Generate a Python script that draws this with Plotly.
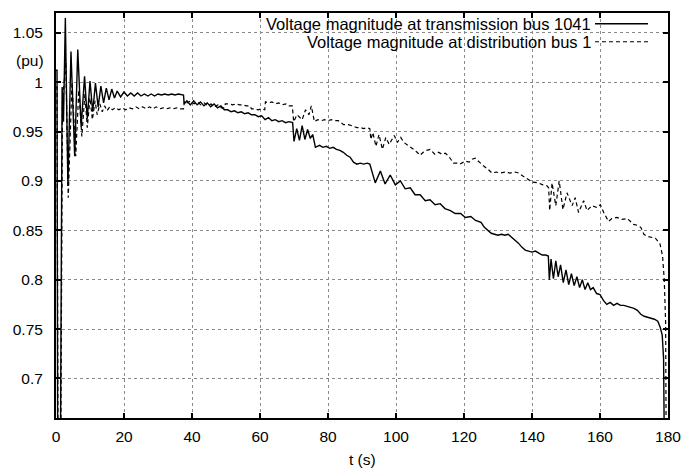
import plotly.graph_objects as go

# ---------------- data ----------------
t_trans = [0.0, 0.3, 0.5, 1.3, 1.8, 2.2, 2.75, 3.5, 4.4, 5.5, 6.4, 7.4, 8.4, 9.2, 10.0, 10.8,
           11.6, 12.4, 13.2, 14.0, 14.8, 15.6, 16.4, 17.2, 18.0, 19.0, 20.0, 21.0, 22.0, 23.0,
           24.0, 25.0, 26.0, 27.0, 28.0, 29.0, 30.0, 31.0, 32.0, 33.0, 34.0, 35.0, 36.0, 37.5,
           37.7, 38.5, 39.5, 40.5, 41.5, 42.5, 43.5, 44.5, 45.5, 46.5, 47.5, 48.5, 49.5, 50.5,
           51.5, 52.5, 53.5, 54.5, 55.5, 56.5, 57.5, 58.5, 59.5, 60.5, 61.5, 62.5, 63.5, 64.5,
           65.5, 66.5, 67.5, 68.5, 69.6, 70.0, 70.8, 71.6, 72.4, 73.2, 74.0, 74.8, 75.5, 76.3,
           77.5, 78.5, 79.5, 80.5, 81.5, 82.5, 83.5, 84.5, 85.5, 86.5, 87.5, 88.5, 89.5, 90.5,
           91.5, 92.3, 93.9, 95.4, 96.8, 98.3, 99.8, 101.3, 102.7, 104.2, 105.6, 107.1, 108.6,
           110.0, 111.5, 113.0, 114.4, 116.0, 117.4, 119.0, 120.4, 122.0, 123.4, 125.0, 126.0,
           127.0, 128.0, 129.0, 130.0, 131.0, 132.0, 133.0, 134.0, 135.0, 136.0, 137.0, 138.0,
           139.0, 140.0, 141.0, 142.0, 143.0, 144.0, 144.8, 145.1, 145.6, 146.3, 147.0, 147.7,
           148.4, 149.2, 150.0, 150.8, 151.6, 152.4, 153.2, 154.0, 154.8, 155.6, 156.4, 157.2,
           158.0, 159.0, 160.0, 161.0, 162.0, 163.0, 164.0, 165.0, 166.0, 167.0, 168.0, 169.0,
           170.0, 171.0, 172.0, 173.0, 174.0, 175.0, 176.0, 177.0, 177.7, 178.3, 178.7, 179.0]
v_trans = [1.012, 1.012, 0.620, 0.620, 0.995, 0.960, 1.065, 0.895, 1.031, 0.925, 1.033, 0.955,
           1.006, 0.963, 1.001, 0.970, 0.999, 0.975, 0.996, 0.979, 0.994, 0.982, 0.993, 0.984,
           0.991, 0.985, 0.990, 0.986, 0.989, 0.986, 0.989, 0.986, 0.988, 0.986, 0.988, 0.986,
           0.988, 0.987, 0.988, 0.987, 0.988, 0.987, 0.988, 0.987,
           0.978, 0.981, 0.977, 0.981, 0.977, 0.980, 0.976, 0.979, 0.975, 0.978, 0.974, 0.976,
           0.972, 0.972, 0.970, 0.971, 0.969, 0.970, 0.968, 0.969, 0.967, 0.967, 0.965, 0.966,
           0.962, 0.964, 0.961, 0.962, 0.960, 0.961, 0.959, 0.960, 0.959, 0.940, 0.953, 0.941,
           0.956, 0.942, 0.952, 0.943, 0.947, 0.934, 0.936, 0.934, 0.935, 0.933, 0.934, 0.932,
           0.931, 0.929, 0.926, 0.924, 0.919, 0.917, 0.918, 0.917, 0.918, 0.917, 0.898, 0.910,
           0.897, 0.906, 0.896, 0.900, 0.892, 0.893, 0.886, 0.886, 0.880, 0.881, 0.876, 0.877,
           0.872, 0.870, 0.867, 0.867, 0.863, 0.864, 0.860, 0.858, 0.853, 0.850, 0.847, 0.846,
           0.845, 0.846, 0.845, 0.846, 0.843, 0.840, 0.837, 0.833, 0.830, 0.829, 0.828, 0.829,
           0.827, 0.825, 0.825, 0.824, 0.800, 0.821, 0.801, 0.819, 0.803, 0.815, 0.797, 0.810,
           0.795, 0.806, 0.794, 0.803, 0.792, 0.800, 0.790, 0.797, 0.790, 0.792, 0.786, 0.785,
           0.779, 0.775, 0.777, 0.774, 0.776, 0.774, 0.774, 0.773, 0.772, 0.771, 0.769, 0.765,
           0.763, 0.762, 0.761, 0.760, 0.758, 0.752, 0.744, 0.720, 0.600]

t_dist = [0.0, 0.3, 0.6, 1.4, 1.9, 2.9, 3.6, 4.7, 5.8, 6.7, 7.6, 8.5, 9.2, 10.0, 10.7, 11.5,
          12.1, 12.9, 13.6, 14.3, 15.0, 15.8, 16.6, 17.5, 18.5, 19.5, 20.5, 21.5, 22.5, 23.5,
          24.5, 25.5, 26.5, 27.5, 28.5, 29.5, 30.5, 31.5, 32.5, 33.5, 34.5, 35.5, 36.5, 37.5,
          37.8, 38.6, 39.6, 40.6, 41.6, 42.6, 43.6, 44.6, 45.6, 46.6, 47.6, 48.6, 49.6, 49.8,
          51.0, 52.0, 53.0, 54.0, 55.0, 56.0, 57.0, 57.5, 58.5, 59.5, 60.5, 61.4, 61.6, 62.5,
          63.5, 64.5, 65.5, 66.5, 67.5, 68.5, 69.5, 69.9, 70.9, 72.4, 73.4, 74.4, 75.1, 76.0,
          77.0, 78.0, 79.0, 80.0, 81.0, 82.0, 83.0, 84.6, 86.0, 87.5, 88.5, 89.5, 90.5, 91.5,
          92.3, 92.6, 93.2, 94.1, 95.0, 96.0, 97.0, 98.0, 99.5, 100.4, 101.4, 102.3, 103.2,
          104.2, 105.2, 106.2, 107.1, 108.0, 109.0, 110.0, 111.4, 112.5, 113.5, 114.5, 115.5,
          116.9, 118.0, 118.8, 120.4, 121.5, 122.4, 123.3, 124.5, 125.8, 127.0, 128.2, 129.5,
          130.7, 132.0, 133.6, 135.0, 136.1, 137.3, 138.5, 140.0, 141.9, 143.2, 144.4, 144.9,
          145.2, 145.9, 147.0, 148.0, 149.1, 150.3, 151.8, 152.7, 153.7, 155.2, 156.2, 157.6,
          159.1, 160.1, 161.1, 162.5, 163.5, 165.0, 166.5, 168.0, 169.9, 171.0, 172.0, 172.9,
          173.8, 175.0, 176.3, 177.2, 177.6, 178.4, 178.9, 179.3, 179.5]
v_dist = [0.995, 0.995, 0.620, 0.620, 0.980, 1.020, 0.883, 1.000, 0.925, 0.992, 0.945, 0.988,
          0.954, 0.984, 0.962, 0.981, 0.967, 0.978, 0.970, 0.976, 0.971, 0.975, 0.972, 0.974,
          0.972, 0.974, 0.972, 0.974, 0.973, 0.975, 0.973, 0.975, 0.973, 0.975, 0.973, 0.975,
          0.973, 0.974, 0.973, 0.974, 0.973, 0.974, 0.973, 0.973,
          0.981, 0.979, 0.981, 0.978, 0.980, 0.977, 0.979, 0.976, 0.978, 0.975, 0.977, 0.974,
          0.974, 0.978, 0.978, 0.977, 0.978, 0.977, 0.977, 0.976, 0.976, 0.973, 0.973, 0.972,
          0.973, 0.972, 0.980, 0.979, 0.980, 0.978, 0.979, 0.977, 0.978, 0.976, 0.976, 0.960,
          0.967, 0.962, 0.972, 0.967, 0.976, 0.960, 0.962, 0.961, 0.962, 0.961, 0.962, 0.961,
          0.961, 0.957, 0.957, 0.955, 0.954, 0.954, 0.953, 0.954, 0.953, 0.942, 0.949, 0.935,
          0.947, 0.932, 0.944, 0.937, 0.946, 0.939, 0.944, 0.939, 0.937, 0.935, 0.932, 0.929,
          0.926, 0.929, 0.931, 0.932, 0.927, 0.929, 0.927, 0.928, 0.925, 0.918, 0.918, 0.917,
          0.920, 0.919, 0.922, 0.923, 0.919, 0.915, 0.912, 0.908, 0.909, 0.908, 0.909, 0.908,
          0.909, 0.908, 0.905, 0.902, 0.899, 0.898, 0.896, 0.895, 0.893, 0.870, 0.898, 0.875,
          0.900, 0.871, 0.888, 0.875, 0.883, 0.868, 0.880, 0.870, 0.875, 0.873, 0.876, 0.868,
          0.859, 0.862, 0.863, 0.861, 0.862, 0.856, 0.855, 0.853, 0.846, 0.844, 0.843, 0.842,
          0.838, 0.837, 0.824, 0.800, 0.757, 0.600]

x_ticks = [0, 20, 40, 60, 80, 100, 120, 140, 160, 180]
y_ticks = [0.7, 0.75, 0.8, 0.85, 0.9, 0.95, 1.0, 1.05]
y_tick_text = ["0.7", "0.75", "0.8", "0.85", "0.9", "0.95", "1", "1.05"]
series_names = ["Voltage magnitude at transmission bus 1041",
                "Voltage magnitude at distribution bus 1"]
x_title = "t (s)"
y_unit = "(pu)"

# ---------------- figure ----------------
FONT = "Liberation Sans, Arial, Helvetica, sans-serif"

fig = go.Figure()
fig.add_trace(go.Scatter(x=t_trans, y=v_trans, mode="lines", name=series_names[0],
                         line=dict(color="black", width=1.4), showlegend=False))
fig.add_trace(go.Scatter(x=t_dist, y=v_dist, mode="lines", name=series_names[1],
                         line=dict(color="black", width=1.2, dash="4px,3px"), showlegend=False))

axis_common = dict(showline=True, linecolor="black", linewidth=2, mirror="ticks",
                   ticks="inside", ticklen=5, tickwidth=1.5, tickcolor="black",
                   showgrid=True, gridcolor="#8a8a8a", gridwidth=1, griddash="dot",
                   zeroline=False, tickfont=dict(size=15.5, color="black"))

fig.update_xaxes(range=[0, 180], tickvals=x_ticks, ticklabelstandoff=3, **axis_common)
fig.update_yaxes(range=[0.66, 1.07], tickvals=y_ticks, ticktext=y_tick_text,
                 ticklabelstandoff=8, **axis_common)

fig.update_layout(width=700, height=468, margin=dict(l=56, r=32, t=13, b=50, pad=0),
                  plot_bgcolor="white", paper_bgcolor="white", showlegend=False,
                  font=dict(family=FONT, size=15.5, color="black"))

# opaque key box (hides the grid behind the key, like the original)
shapes = [dict(type="rect", xref="paper", yref="paper", x0=0.194, x1=0.982, y0=0.905, y1=1.0,
               fillcolor="white", line=dict(width=0), layer="between")]
key_y = [0.9736, 0.929]
key_dash = ["solid", "4px,3px"]
key_w = [1.4, 1.2]
annotations = []
for name, yy, dsh, w in zip(series_names, key_y, key_dash, key_w):
    annotations.append(dict(text=name, xref="paper", yref="paper", x=0.8775, y=yy,
                            xanchor="right", yanchor="middle", showarrow=False,
                            font=dict(size=16.5, family=FONT, color="black")))
    shapes.append(dict(type="line", xref="paper", yref="paper", x0=0.8807, x1=0.9673,
                       y0=yy, y1=yy, line=dict(color="black", width=w, dash=dsh)))

annotations.append(dict(text=y_unit, xref="paper", yref="y", x=0, xshift=-10, y=1.022,
                        xanchor="right", yanchor="middle", showarrow=False,
                        font=dict(size=15.5, family=FONT, color="black")))
annotations.append(dict(text=x_title, xref="paper", yref="paper", x=0.5, y=-0.103,
                        xanchor="center", yanchor="middle", showarrow=False,
                        font=dict(size=15.5, family=FONT, color="black")))

fig.update_layout(shapes=shapes, annotations=annotations)
fig.write_html("out.html")
